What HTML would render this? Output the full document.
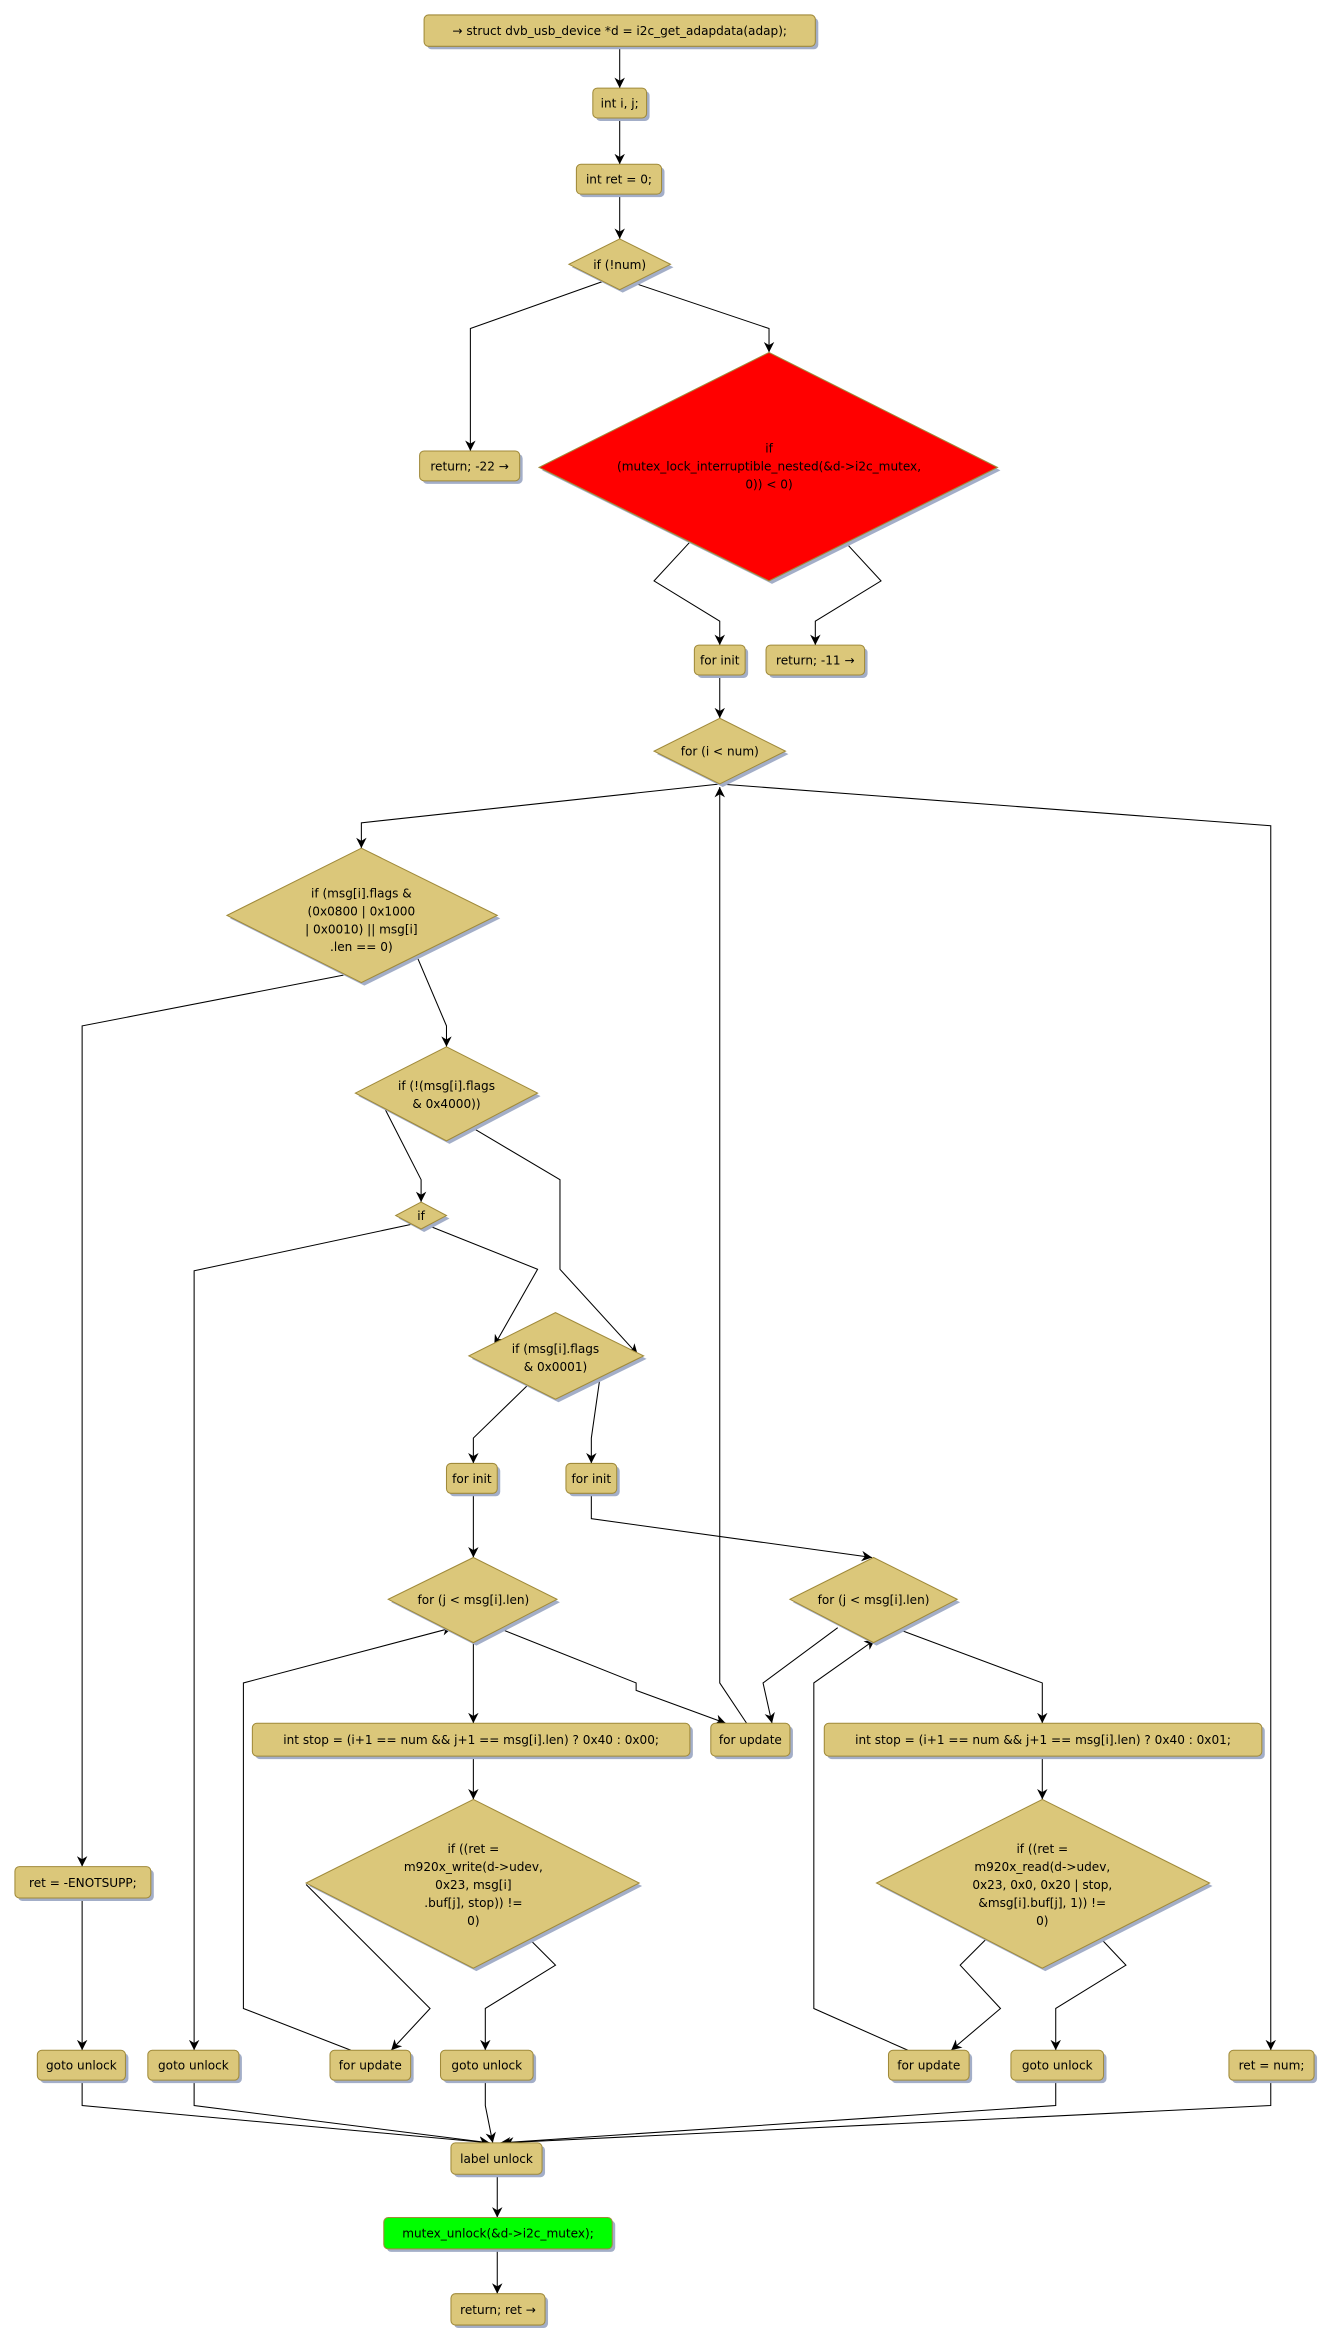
<!DOCTYPE html>
<html><head><meta charset="utf-8"><style>
html,body{margin:0;padding:0;background:#fff;width:1329px;height:2337px;overflow:hidden}
svg{display:block}
text{font-family:"DejaVu Sans","Liberation Sans",sans-serif;font-size:8.1px;fill:#000;text-anchor:middle}
.n{fill:#dbc77a;stroke:#a08a3a;stroke-width:0.7}
.s{fill:#a3aec8}
.l{fill:none;stroke:#000;stroke-width:0.7}
</style></head><body>
<svg width="1329" height="2337" viewBox="0 0 890 1565" preserveAspectRatio="none" xmlns="http://www.w3.org/2000/svg">
<defs><marker id="a" viewBox="0 0 10 10" refX="10" refY="5" markerWidth="7" markerHeight="7" orient="auto" markerUnits="userSpaceOnUse"><path d="M0,0 L10,5 L0,10 L3,5 z" fill="#000"/></marker></defs>

<g class="l" marker-end="url(#a)">
<path d="M415,31 V59"/>
<path d="M415,79 V110"/>
<path d="M415,130 V160"/>
<path d="M405,188 L315,220 V302"/>
<path d="M420,188 L515,220 V236"/>
<path d="M462,363 L438,389 L482,416 V432"/>
<path d="M566,363 L590,389 L546,416 V432"/>
<path d="M482,452 V481"/>
<path d="M482,525 L242,551 V568"/>
<path d="M482,525 L851,553 V1373"/>
<path d="M230,653 L55,687 V1250"/>
<path d="M55,1271 V1373"/>
<path d="M279,640 L299,687 V701"/>
<path d="M258,743 L282,790 V805"/>
<path d="M316,755 L375,790 V850 L427,907"/>
<path d="M275,820 L130,851 V1373"/>
<path d="M285,820 L360,850 L331,901"/>
<path d="M353,928 L317,963 V980"/>
<path d="M402,921 L396,963 V980"/>
<path d="M317,1000 V1043"/>
<path d="M396,1000 V1017 L584,1043"/>
<path d="M317,1100 V1154"/>
<path d="M317,1176 V1205"/>
<path d="M205,1262 L288,1345 L262,1373"/>
<path d="M354,1298 L372,1316 L325,1345 V1373"/>
<path d="M235,1373 L163,1345 V1127 L303,1090"/>
<path d="M333,1090 L426,1127 V1132 L486,1154"/>
<path d="M500,1154 L482,1127 V527"/>
<path d="M561,1090 L511,1127 L517,1154"/>
<path d="M604,1092 L698,1127 V1154"/>
<path d="M698,1176 V1205"/>
<path d="M661,1298 L643,1316 L670,1345 L637,1373"/>
<path d="M737,1298 L754,1316 L707,1345 V1373"/>
<path d="M608,1373 L545,1345 V1127 L586,1098"/>
<path d="M55,1393 V1410 L328,1435"/>
<path d="M130,1393 V1410 L328,1435"/>
<path d="M325,1393 V1410 L330,1435"/>
<path d="M707,1393 V1410 L335,1435"/>
<path d="M851,1393 V1410 L337,1435"/>
<path d="M333,1456 V1485"/>
<path d="M333,1506 V1536"/>
</g>

<g>
<rect class="s" x="286" y="12" width="262" height="21" rx="3"/><rect class="n" x="284" y="10" width="262" height="21" rx="3"/><text x="415" y="23.5">→ struct dvb_usb_device *d = i2c_get_adapdata(adap);</text>
<rect class="s" x="399" y="61" width="36" height="20" rx="3"/><rect class="n" x="397" y="59" width="36" height="20" rx="3"/><text x="415" y="72">int i, j;</text>
<rect class="s" x="388" y="112" width="57" height="20" rx="3"/><rect class="n" x="386" y="110" width="57" height="20" rx="3"/><text x="414.5" y="123">int ret = 0;</text>
<rect class="s" x="283" y="304" width="67" height="20" rx="3"/><rect class="n" x="281" y="302" width="67" height="20" rx="3"/><text x="314.5" y="315">return; -22 →</text>
<rect class="s" x="467" y="434" width="34" height="20" rx="3"/><rect class="n" x="465" y="432" width="34" height="20" rx="3"/><text x="482" y="445">for init</text>
<rect class="s" x="515" y="434" width="66" height="20" rx="3"/><rect class="n" x="513" y="432" width="66" height="20" rx="3"/><text x="546" y="445">return; -11 →</text>
<rect class="s" x="12" y="1252" width="91" height="21" rx="3"/><rect class="n" x="10" y="1250" width="91" height="21" rx="3"/><text x="55.5" y="1263.5">ret = -ENOTSUPP;</text>
<rect class="s" x="301" y="982" width="34" height="20" rx="3"/><rect class="n" x="299" y="980" width="34" height="20" rx="3"/><text x="316" y="993">for init</text>
<rect class="s" x="381" y="982" width="34" height="20" rx="3"/><rect class="n" x="379" y="980" width="34" height="20" rx="3"/><text x="396" y="993">for init</text>
<rect class="s" x="171" y="1156" width="293" height="22" rx="3"/><rect class="n" x="169" y="1154" width="293" height="22" rx="3"/><text x="315.5" y="1168">int stop = (i+1 == num &amp;&amp; j+1 == msg[i].len) ? 0x40 : 0x00;</text>
<rect class="s" x="478" y="1156" width="53" height="22" rx="3"/><rect class="n" x="476" y="1154" width="53" height="22" rx="3"/><text x="502.5" y="1168">for update</text>
<rect class="s" x="554" y="1156" width="293" height="22" rx="3"/><rect class="n" x="552" y="1154" width="293" height="22" rx="3"/><text x="698.5" y="1168">int stop = (i+1 == num &amp;&amp; j+1 == msg[i].len) ? 0x40 : 0x01;</text>
<rect class="s" x="27" y="1375" width="59" height="20" rx="3"/><rect class="n" x="25" y="1373" width="59" height="20" rx="3"/><text x="54.5" y="1386">goto unlock</text>
<rect class="s" x="101" y="1375" width="61" height="20" rx="3"/><rect class="n" x="99" y="1373" width="61" height="20" rx="3"/><text x="129.5" y="1386">goto unlock</text>
<rect class="s" x="223" y="1375" width="54" height="20" rx="3"/><rect class="n" x="221" y="1373" width="54" height="20" rx="3"/><text x="248" y="1386">for update</text>
<rect class="s" x="297" y="1375" width="62" height="20" rx="3"/><rect class="n" x="295" y="1373" width="62" height="20" rx="3"/><text x="326" y="1386">goto unlock</text>
<rect class="s" x="597" y="1375" width="54" height="20" rx="3"/><rect class="n" x="595" y="1373" width="54" height="20" rx="3"/><text x="622" y="1386">for update</text>
<rect class="s" x="679" y="1375" width="62" height="20" rx="3"/><rect class="n" x="677" y="1373" width="62" height="20" rx="3"/><text x="708" y="1386">goto unlock</text>
<rect class="s" x="825" y="1375" width="57" height="20" rx="3"/><rect class="n" x="823" y="1373" width="57" height="20" rx="3"/><text x="851.5" y="1386">ret = num;</text>
<rect class="s" x="304" y="1437" width="61" height="21" rx="3"/><rect class="n" x="302" y="1435" width="61" height="21" rx="3"/><text x="332.5" y="1448.5">label unlock</text>
<rect class="s" x="259" y="1487" width="153" height="21" rx="3"/><rect x="257" y="1485" width="153" height="21" rx="3" fill="#00ff00" stroke="#a08a3a" stroke-width="0.7"/><text x="333.5" y="1498.5">mutex_unlock(&amp;d-&gt;i2c_mutex);</text>
<rect class="s" x="304" y="1538" width="63" height="21" rx="3"/><rect class="n" x="302" y="1536" width="63" height="21" rx="3"/><text x="333.5" y="1549.5">return; ret →</text>
</g>

<g>
<polygon class="s" points="417,162 451,179 417,196 383,179"/><polygon class="n" points="415,160 449,177 415,194 381,177"/><text x="415" y="180">if (!num)</text>

<polygon class="s" points="517,238 670,315 517,391 363,315"/><polygon points="515,236 668,313 515,389 361,313" fill="#ff0000" stroke="#a08a3a" stroke-width="0.7"/>
<text x="515" y="303">if</text><text x="515" y="315">(mutex_lock_interruptible_nested(&amp;d-&gt;i2c_mutex,</text><text x="515" y="327">0)) &lt; 0)</text>

<polygon class="s" points="484,483 528,505 484,527 440,505"/><polygon class="n" points="482,481 526,503 482,525 438,503"/><text x="482" y="506">for (i &lt; num)</text>

<polygon class="s" points="244,570 335,615 244,660 154,615"/><polygon class="n" points="242,568 333,613 242,658 152,613"/>
<text x="242" y="601">if (msg[i].flags &amp;</text><text x="242" y="613">(0x0800 | 0x1000</text><text x="242" y="625">| 0x0010) || msg[i]</text><text x="242" y="637">.len == 0)</text>

<polygon class="s" points="301,703 362,734 301,766 240,734"/><polygon class="n" points="299,701 360,732 299,764 238,732"/>
<text x="299" y="730">if (!(msg[i].flags</text><text x="299" y="742">&amp; 0x4000))</text>

<polygon class="s" points="284,807 301,816 284,825 267,816"/><polygon class="n" points="282,805 299,814 282,823 265,814"/><text x="282" y="817">if</text>

<polygon class="s" points="374,881 433,910 374,939 316,910"/><polygon class="n" points="372,879 431,908 372,937 314,908"/>
<text x="372" y="906">if (msg[i].flags</text><text x="372" y="918">&amp; 0x0001)</text>

<polygon class="s" points="319,1045 375,1073 319,1102 262,1073"/><polygon class="n" points="317,1043 373,1071 317,1100 260,1071"/><text x="317" y="1074">for (j &lt; msg[i].len)</text>

<polygon class="s" points="587,1045 643,1073 587,1102 531,1073"/><polygon class="n" points="585,1043 641,1071 585,1100 529,1071"/><text x="585" y="1074">for (j &lt; msg[i].len)</text>

<polygon class="s" points="319,1207 430,1263 319,1320 207,1263"/><polygon class="n" points="317,1205 428,1261 317,1318 205,1261"/>
<text x="317" y="1241">if ((ret =</text><text x="317" y="1253">m920x_write(d-&gt;udev,</text><text x="317" y="1265">0x23, msg[i]</text><text x="317" y="1277">.buf[j], stop)) !=</text><text x="317" y="1289">0)</text>

<polygon class="s" points="700,1207 812,1263 700,1320 589,1263"/><polygon class="n" points="698,1205 810,1261 698,1318 587,1261"/>
<text x="698" y="1241">if ((ret =</text><text x="698" y="1253">m920x_read(d-&gt;udev,</text><text x="698" y="1265">0x23, 0x0, 0x20 | stop,</text><text x="698" y="1277">&amp;msg[i].buf[j], 1)) !=</text><text x="698" y="1289">0)</text>
</g>
</svg>
</body></html>
